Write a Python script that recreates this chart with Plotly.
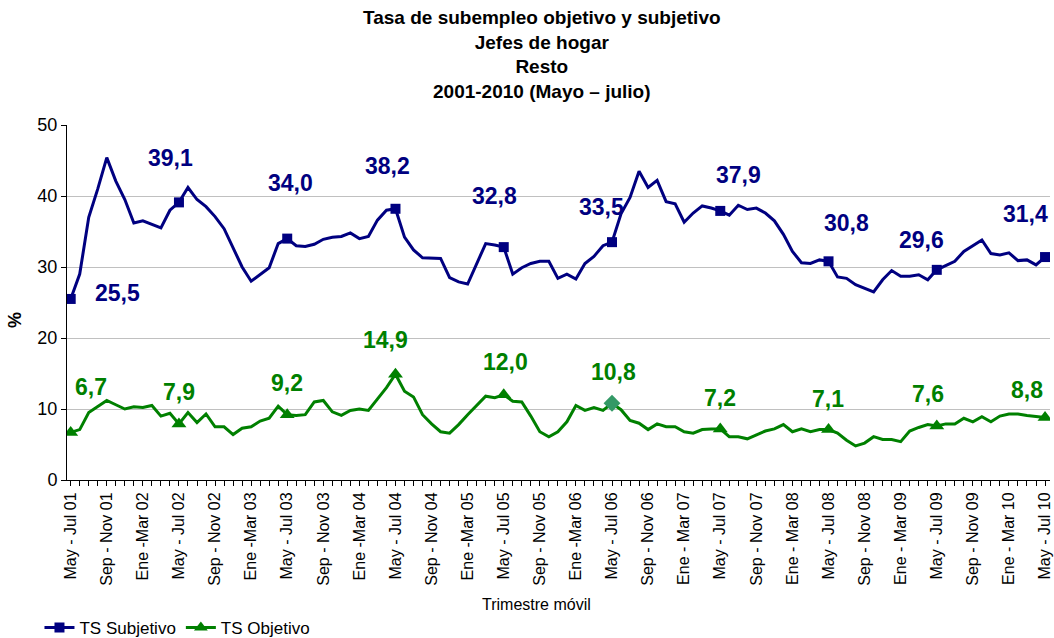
import plotly.graph_objects as go

# Data (monthly rolling quarters, May-Jul 2001 .. May-Jul 2010)
ts_subjetivo = [25.5, 29.0, 37.0, 41.0, 45.4, 42.1, 39.5, 36.2, 36.5, 36.0,
                35.5, 38.0, 39.1, 41.2, 39.5, 38.5, 37.1, 35.4, 32.6, 30.0,
                28.0, 28.9, 29.9, 33.3, 34.0, 33.0, 32.9, 33.2, 33.9, 34.2,
                34.3, 34.8, 34.0, 34.3, 36.6, 38.0, 38.2, 34.2, 32.4, 31.3,
                31.2, 31.2, 28.5, 27.9, 27.6, 30.5, 33.3, 33.1, 32.8, 29.0,
                29.9, 30.5, 30.8, 30.8, 28.4, 29.0, 28.3, 30.5, 31.5, 33.0,
                33.5, 37.5, 39.8, 43.5, 41.2, 42.2, 39.2, 38.9, 36.3, 37.6,
                38.6, 38.3, 37.9, 37.3, 38.7, 38.1, 38.3, 37.6, 36.5, 34.6,
                32.2, 30.6, 30.5, 31.0, 30.8, 28.6, 28.4, 27.5, 27.0, 26.5,
                28.2, 29.5, 28.7, 28.7, 28.9, 28.2, 29.6, 30.2, 30.8, 32.2,
                33.0, 33.8, 31.9, 31.7, 32.0, 30.9, 31.0, 30.3, 31.4]

ts_objetivo = [6.7, 7.1, 9.5, 10.4, 11.2, 10.6, 10.0, 10.3, 10.2, 10.5,
               9.0, 9.4, 7.9, 9.5, 8.1, 9.3, 7.5, 7.5, 6.4, 7.3,
               7.5, 8.3, 8.7, 10.4, 9.2, 9.1, 9.2, 11.0, 11.2, 9.6,
               9.1, 9.8, 10.0, 9.8, 11.4, 13.0, 14.9, 12.5, 11.7, 9.2,
               7.9, 6.8, 6.6, 7.8, 9.2, 10.5, 11.8, 11.6, 12.0, 11.1,
               11.0, 9.0, 6.8, 6.1, 6.8, 8.2, 10.5, 9.8, 10.2, 9.8,
               10.8, 9.9, 8.4, 8.0, 7.1, 7.9, 7.5, 7.5, 6.8, 6.6,
               7.1, 7.2, 7.2, 6.1, 6.1, 5.8, 6.4, 6.9, 7.2, 7.8,
               6.8, 7.2, 6.8, 7.1, 7.1, 6.6, 5.6, 4.8, 5.2, 6.1,
               5.7, 5.7, 5.4, 6.9, 7.4, 7.8, 7.6, 7.9, 7.9, 8.7,
               8.2, 8.9, 8.2, 9.0, 9.3, 9.3, 9.1, 9.0, 8.8]

tick_labels = ["May - Jul 01", "Sep - Nov 01", "Ene -Mar 02",
               "May - Jul 02", "Sep - Nov 02", "Ene -Mar 03",
               "May - Jul 03", "Sep - Nov 03", "Ene -Mar 04",
               "May - Jul 04", "Sep - Nov 04", "Ene -Mar 05",
               "May - Jul 05", "Sep - Nov 05", "Ene -Mar 06",
               "May - Jul 06", "Sep - Nov 06", "Ene - Mar 07",
               "May - Jul 07", "Sep - Nov 07", "Ene - Mar 08",
               "May - Jul 08", "Sep - Nov 08", "Ene - Mar 09",
               "May - Jul 09", "Sep - Nov 09", "Ene - Mar 10",
               "May - Jul 10"]

x = list(range(len(ts_subjetivo)))
tick_pos = x[::4]
mark_idx = x[::12]  # May-Jul of each year

NAVY = "#000080"
GREEN = "#008000"
FONT = "Arial, Liberation Sans, sans-serif"

# plot area in pixels
L, R, T, B = 67, 4, 125, 158
PW, PH = 1054 - L - R, 638 - T - B

# label offsets in pixels (dx, dy) from the marked point
sub_off = [(47, -6), (-8, -44), (3, -56), (-8, -43), (-9, -51),
           (-11, -35), (18, -36), (18, -38), (-15, -30), (-20, -43)]
obj_off = [(20, -45), (0, -32), (0, -32), (-10, -34), (2, -33),
           (1, -31), (0, -31), (-1, -31), (-9, -32), (-18, -28)]

fig = go.Figure()

# lines
fig.add_trace(go.Scatter(x=x, y=ts_subjetivo, mode="lines",
                         line=dict(color=NAVY, width=3),
                         showlegend=False, hoverinfo="skip"))
fig.add_trace(go.Scatter(x=x, y=ts_objetivo, mode="lines",
                         line=dict(color=GREEN, width=3),
                         showlegend=False, hoverinfo="skip"))

# markers on May-Jul points
fig.add_trace(go.Scatter(x=mark_idx, y=[ts_subjetivo[i] for i in mark_idx],
                         mode="markers", showlegend=False,
                         marker=dict(symbol="square", size=10, color=NAVY)))
obj_sym = ["diamond" if i == 60 else "triangle-up" for i in mark_idx]
obj_col = ["#339966" if i == 60 else GREEN for i in mark_idx]
fig.add_trace(go.Scatter(x=mark_idx, y=[ts_objetivo[i] for i in mark_idx],
                         mode="markers", showlegend=False,
                         marker=dict(symbol=obj_sym, size=13, color=obj_col)))

# legend entries
fig.add_trace(go.Scatter(x=[None], y=[None], mode="lines+markers", name="TS Subjetivo",
                         line=dict(color=NAVY, width=3),
                         marker=dict(symbol="square", size=10, color=NAVY)))
fig.add_trace(go.Scatter(x=[None], y=[None], mode="lines+markers", name="TS Objetivo",
                         line=dict(color=GREEN, width=3),
                         marker=dict(symbol="triangle-up", size=12, color=GREEN)))

# value labels
for k, i in enumerate(mark_idx):
    for series, offs, col in ((ts_subjetivo, sub_off, NAVY), (ts_objetivo, obj_off, GREEN)):
        v = series[i]
        fig.add_annotation(x=i, y=v, text=f"{v:.1f}".replace(".", ","),
                           showarrow=False, xshift=offs[k][0], yshift=-offs[k][1],
                           font=dict(family=FONT, size=23, color=col, weight="bold"))

# title
fig.add_annotation(x=(542 - L) / PW, y=1 + (T - 5) / PH, xref="paper", yref="paper",
                   xanchor="center", yanchor="top", showarrow=False,
                   text="<b>Tasa de subempleo objetivo y subjetivo<br>Jefes de hogar<br>Resto<br>2001-2010 (Mayo – julio)</b>",
                   font=dict(family=FONT, size=19, color="black"))

# axis titles
fig.add_annotation(x=(536 - L) / PW, y=-(604 - 480) / PH, xref="paper", yref="paper",
                   text="Trimestre móvil", showarrow=False, yanchor="middle",
                   font=dict(family=FONT, size=16, color="black"))
fig.add_annotation(x=(15 - L) / PW, y=(480 - 320) / PH, xref="paper", yref="paper",
                   text="<b>%</b>", showarrow=False, textangle=-90,
                   xanchor="center", yanchor="middle",
                   font=dict(family=FONT, size=18, color="black"))

fig.update_layout(
    width=1054, height=638,
    margin=dict(l=L, r=R, t=T, b=B, autoexpand=False),
    paper_bgcolor="white", plot_bgcolor="white",
    font=dict(family=FONT, color="black"),
    legend=dict(orientation="h", x=-0.028, y=-(628 - 480) / PH, xanchor="left", yanchor="middle",
                font=dict(family=FONT, size=17, color="black"),
                bgcolor="rgba(0,0,0,0)"),
    showlegend=True,
)

fig.update_xaxes(range=[-0.41, 108.55], tickmode="array", tickvals=tick_pos,
                 ticktext=tick_labels, tickangle=-90, automargin=False,
                 tickfont=dict(family=FONT, size=16, color="black"),
                 showline=True, linecolor="black", linewidth=1,
                 ticks="outside", ticklen=5, tickcolor="black",
                 minor=dict(tickmode="linear", tick0=0, dtick=1, ticks="outside",
                            ticklen=5, tickcolor="black", showgrid=False),
                 showgrid=False, zeroline=False)

fig.update_yaxes(range=[0, 50], dtick=10, tick0=0, automargin=False,
                 tickfont=dict(family=FONT, size=18, color="black"),
                 showline=True, linecolor="black", linewidth=1,
                 ticks="outside", ticklen=5, tickcolor="black",
                 showgrid=True, gridcolor="#c0c0c0", gridwidth=1, zeroline=False)

# drop the page's default body margin so the figure sits at the window origin
fig.write_html("out.html", config={"displayModeBar": False},
               post_script="document.body.style.margin='0';document.body.style.overflow='hidden';")
